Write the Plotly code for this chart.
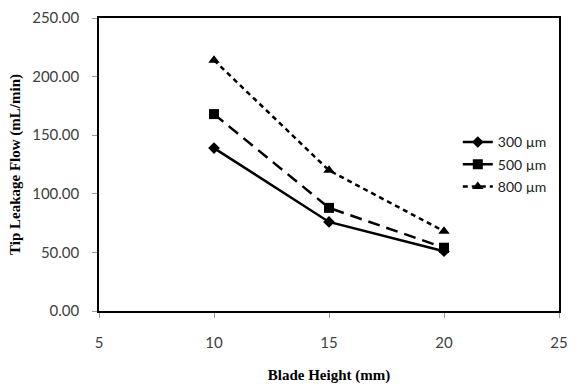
import plotly.graph_objects as go

blade_height = [10, 15, 20]
flow_300 = [139, 76, 51]
flow_500 = [168, 88, 54]
flow_800 = [214, 120, 68]
series_names = ["300 µm", "500 µm", "800 µm"]

fig = go.Figure()
styles = [
    (flow_300, "solid", "diamond", 9),
    (flow_500, "12px,7px", "square", 10),
    (flow_800, "5px,4px", "triangle-up", 10),
]
for i, (vals, dash, sym, sz) in enumerate(styles):
    fig.add_trace(go.Scatter(
        x=blade_height, y=vals, mode="lines+markers", name=series_names[i],
        legendgroup=f"g{i}",
        line=dict(color="black", width=2.5, dash=dash),
        marker=dict(symbol=sym, size=sz, color="black"),
    ))

fig.update_layout(
    width=576, height=389,
    margin=dict(l=99, r=8, t=16, b=75),
    paper_bgcolor="white", plot_bgcolor="white",
    font=dict(family="Lato, Liberation Sans, sans-serif", size=15, color="#404040"),
    showlegend=True,
    legend=dict(x=0.78, y=0.63, xanchor="left", yanchor="top",
                bgcolor="rgba(0,0,0,0)", tracegroupgap=1,
                font=dict(size=14, color="#222")),
    xaxis=dict(range=[5, 25], dtick=5, tick0=5, showgrid=False, zeroline=False,
               showline=True, linecolor="black", linewidth=1.5, mirror=True,
               ticks="outside", ticklen=5, tickcolor="#999",
               ticklabelstandoff=12,
               title=dict(text="<b>Blade Height (mm)</b>",
                          font=dict(family="Liberation Serif, serif", size=15, color="black"),
                          standoff=20)),
    yaxis=dict(range=[0, 250], dtick=50, tickformat=".2f", showgrid=False, zeroline=False,
               showline=True, linecolor="black", linewidth=1.5, mirror=True,
               ticks="outside", ticklen=5, tickcolor="#999",
               ticklabelstandoff=10,
               title=dict(text="<b>Tip Leakage Flow (mL/min)</b>",
                          font=dict(family="Liberation Serif, serif", size=15, color="black"),
                          standoff=8)),
)
fig.write_html("out.html")
